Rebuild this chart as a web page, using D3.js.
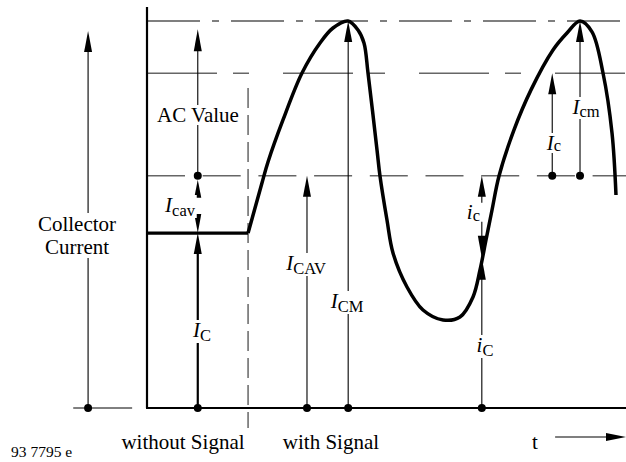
<!DOCTYPE html>
<html>
<head>
<meta charset="utf-8">
<script src="https://cdn.jsdelivr.net/npm/d3@7"></script>
<style>
  body { margin: 0; background: #fff; }
</style>
</head>
<body>
<div id="chart"></div>
<script>
// collector current curve: time (% of window) and current (% of peak)
const curveT = [21.1, 22.55, 24.0, 25.26, 28.39, 32.36, 36.12, 38.83, 41.96, 44.05, 45.3, 46.14, 48.02, 48.64,
  50.1, 51.36, 54.28, 57.62, 61.8, 65.34, 68.06, 69.52, 70.77, 72.03, 73.49, 76.6, 80.17,
  84.76, 87.68, 90.4, 92.9, 95.2, 97.08, 97.91];
const curveI = [45.2, 51.68, 58.14, 63.57, 74.42, 86.56, 94.32, 98.19, 100, 97.67, 94.32, 86.56, 66.67, 59.95,
  48.58, 40.05, 31.27, 25.32, 22.74, 23.51, 28.68, 35.66, 43.41, 51.16, 59.95, 71.8, 82.2,
  92.51, 96.9, 100, 97.2, 86.56, 71.06, 55.04];

// current levels (% of peak)
const levelNames = ["ICM", "Ic", "ICAV", "IC"];
const levelValues = [100, 86.5, 60, 45.2];

// time positions of the marker arrows
const markerNames = ["collector", "IC", "signal", "ICAV", "ICM", "iC", "Ic", "Icm"];
const markerT = [-12.3, 10.6, 21.1, 33.4, 42.0, 69.9, 84.6, 90.4];

const lv = n => levelValues[levelNames.indexOf(n)];
const mt = n => markerT[markerNames.indexOf(n)];

const width = 626, height = 462;
const svg = d3.select("#chart").append("svg")
  .attr("width", width)
  .attr("height", height)
  .attr("font-family", "'Liberation Serif', 'DejaVu Serif', serif");

const x = d3.scaleLinear().domain([0, 100]).range([147, 626]);
const y = d3.scaleLinear().domain([0, 100]).range([408, 21]);

function hline(t1, t2, v, color, w, dash) {
  return svg.append("line")
    .attr("x1", x(t1)).attr("x2", x(t2))
    .attr("y1", y(v)).attr("y2", y(v))
    .attr("stroke", color).attr("stroke-width", w)
    .attr("stroke-dasharray", dash || null);
}
function vline(t, v1, v2, color, w, dash) {
  return svg.append("line")
    .attr("x1", x(t)).attr("x2", x(t))
    .attr("y1", typeof v1 === "number" ? y(v1) : v1.px)
    .attr("y2", typeof v2 === "number" ? y(v2) : v2.px)
    .attr("stroke", color).attr("stroke-width", w)
    .attr("stroke-dasharray", dash || null);
}
// arrowhead, tip at pixel (px, tip); up = pointing up
function head(px, tip, up, len, w) {
  len = len || 20; w = w || 8;
  const base = up ? tip + len : tip - len;
  svg.append("path")
    .attr("d", `M${px},${tip}L${px - w / 2},${base}L${px + w / 2},${base}Z`)
    .attr("fill", "#000");
}
function arrowUp(t, from, to, w, len) {
  len = len || 20;
  vline(t, from, {px: y(to) + len - 1}, "#000", w || 1);
  head(x(t), y(to), true, len, 8);
}
function dot(t, v) {
  svg.append("circle").attr("cx", x(t)).attr("cy", y(v)).attr("r", 4).attr("fill", "#000");
}
// text label with white mask behind
function label(px, py, main, sub, anchor, opts) {
  opts = opts || {};
  const g = svg.append("g");
  const txt = g.append("text")
    .attr("x", px).attr("y", py)
    .attr("text-anchor", anchor || "middle")
    .attr("font-size", opts.size || 21);
  txt.append("tspan").attr("font-style", opts.roman ? null : "italic").text(main);
  if (sub) txt.append("tspan").attr("dy", opts.dy || 4).attr("font-size", 16.5).text(sub);
  const b = txt.node().getBBox();
  g.insert("rect", "text")
    .attr("x", b.x - 1).attr("y", b.y + 2)
    .attr("width", b.width + 2).attr("height", b.height - 4)
    .attr("fill", "#fff");
  return g;
}

// reference levels
hline(0, 100, lv("ICM"), "#000", 1.1, "53,12,7,12");
hline(0, 100, lv("Ic"), "#666", 1.5, "70,16,16,34");
hline(0, 100, lv("ICAV"), "#666", 1.5, "38,17.7");
vline(mt("signal"), 82.7, -5.2, "#666", 1.5, "20,7");

// axes
vline(0, 103.6, 0, "#000", 2.2);
svg.append("line")
  .attr("x1", x(0) - 1).attr("x2", x(100))
  .attr("y1", y(0)).attr("y2", y(0))
  .attr("stroke", "#000").attr("stroke-width", 2.2);
hline(-15.4, -3.1, 0, "#000", 1);

// quiescent current and signal
hline(0, mt("signal"), lv("IC"), "#000", 3.2);
const line = d3.line()
  .x((d, i) => x(curveT[i]))
  .y(d => y(d))
  .curve(d3.curveCatmullRom.alpha(0.5));
svg.append("path")
  .attr("d", line(curveI))
  .attr("fill", "none")
  .attr("stroke", "#000")
  .attr("stroke-width", 3.5);

// arrows
arrowUp(mt("collector"), 0, 97.4, 1.1, 21);
arrowUp(mt("IC"), lv("ICAV"), 97.9, 1.1, 22);
arrowUp(mt("IC"), 0, lv("IC"), 2.2, 21);
arrowUp(mt("ICAV"), 0, lv("ICAV"), 1.1, 21);
arrowUp(mt("ICM"), 0, lv("ICM"), 1.1, 21);
arrowUp(mt("iC"), 0, 38.8, 1.1, 22);
arrowUp(mt("Ic"), lv("ICAV"), lv("Ic"), 1.1, 21);
arrowUp(mt("Icm"), lv("ICAV"), lv("ICM"), 1.1, 21);

// I_cav double arrow
head(x(mt("IC")), y(lv("ICAV")) + 4, true, 18, 7);
head(x(mt("IC")), y(lv("IC")), false, 19, 7);
// i_c double arrow
head(x(mt("iC")), y(lv("ICAV")), true, 21, 8);
vline(mt("iC"), {px: y(lv("ICAV")) + 20}, {px: y(lv("ICAV")) + 27}, "#000", 1.1);
vline(mt("iC"), {px: y(38.8) - 36}, {px: y(38.8) - 21}, "#000", 1.1);
head(x(mt("iC")), y(38.8), false, 22, 8);

// dots
["collector", "IC", "ICAV", "ICM", "iC"].forEach(n => dot(mt(n), 0));
["IC", "Ic", "Icm"].forEach(n => dot(mt(n), lv("ICAV")));

// labels
const coll = svg.append("g");
coll.append("rect").attr("x", 36).attr("y", 213).attr("width", 84).attr("height", 45).attr("fill", "#fff");
coll.append("text").attr("x", 77).attr("y", 231).attr("text-anchor", "middle").attr("font-size", 21).text("Collector");
coll.append("text").attr("x", 77).attr("y", 254).attr("text-anchor", "middle").attr("font-size", 21).text("Current");

label(198, 122, "AC Value", null, "middle", {roman: true});
label(195, 212, "I", "cav", "end");
label(202, 337, "I", "C", "middle");
label(306, 270, "I", "CAV", "middle");
label(347, 308, "I", "CM", "middle");
label(485, 352, "i", "C", "middle");
label(480, 219, "i", "c", "end", {dy: 2});
label(554, 150, "I", "c", "middle", {dy: 1});
label(586, 114, "I", "cm", "middle", {dy: 3});

// bottom captions
svg.append("text").attr("x", 183).attr("y", 449).attr("text-anchor", "middle").attr("font-size", 21).text("without Signal");
svg.append("text").attr("x", 331).attr("y", 449).attr("text-anchor", "middle").attr("font-size", 21).text("with Signal");
svg.append("text").attr("x", 535).attr("y", 449).attr("text-anchor", "middle").attr("font-size", 21).text("t");
svg.append("line")
  .attr("x1", x(85.2)).attr("x2", x(100) - 18)
  .attr("y1", y(-7.5)).attr("y2", y(-7.5))
  .attr("stroke", "#000").attr("stroke-width", 1.1);
svg.append("path")
  .attr("d", `M${x(100)},${y(-7.5)}L${x(100) - 20},${y(-7.5) - 4}L${x(100) - 20},${y(-7.5) + 4}Z`)
  .attr("fill", "#000");
svg.append("text").attr("x", 11).attr("y", 457).attr("font-size", 15.5).text("93 7795 e");
</script>
</body>
</html>
